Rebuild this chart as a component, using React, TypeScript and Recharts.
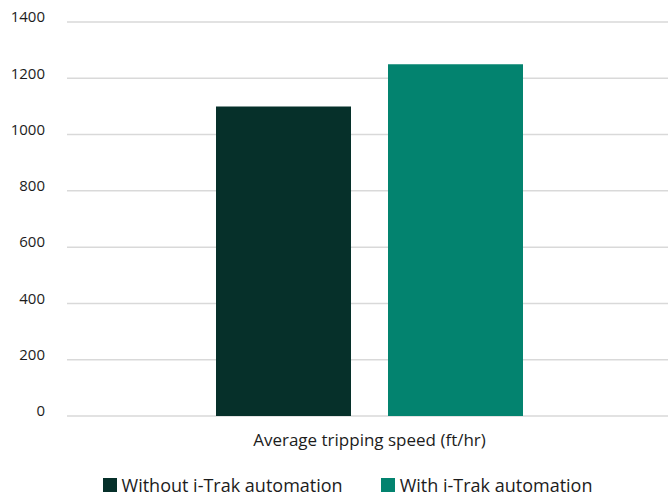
import React from "react";
import { Bar, BarChart, CartesianGrid, Legend, XAxis, YAxis } from "recharts";

const categories = ["Average tripping speed (ft/hr)"];
const withoutAutomation = [1100];
const withAutomation = [1250];
const yTicks = [0, 200, 400, 600, 800, 1000, 1200, 1400];

const SERIES = [
  { key: "without", name: "Without i-Trak automation", color: "#06302a" },
  { key: "with", name: "With i-Trak automation", color: "#03836f" },
];

const data = categories.map((c, i) => ({
  name: c,
  without: withoutAutomation[i],
  with: withAutomation[i],
}));

const FONT = "'Open Sans', sans-serif";
const TEXT = "#1c1c1c";

function LegendRow() {
  return (
    <div
      style={{
        display: "flex",
        justifyContent: "center",
        gap: 38,
        paddingLeft: 27,
        fontFamily: FONT,
        fontSize: 18,
        lineHeight: "20px",
        color: TEXT,
      }}
    >
      {SERIES.map((s) => (
        <span key={s.key} style={{ display: "inline-flex", alignItems: "center" }}>
          <span style={{ width: 14, height: 14, background: s.color, marginRight: 5, display: "inline-block" }} />
          {s.name}
        </span>
      ))}
    </div>
  );
}

export default function App() {
  return (
    <div style={{ position: "absolute", left: 0, top: 0, width: 668, height: 499, background: "#fff", overflow: "hidden" }}>
      <BarChart
        width={668}
        height={499}
        data={data}
        margin={{ top: 22, right: -4, bottom: 0, left: 0 }}
        barSize={135}
        barGap={37}
      >
        <CartesianGrid stroke="#d9d9d9" strokeWidth={1.5} vertical={false} />
        <XAxis
          dataKey="name"
          axisLine={false}
          tickLine={false}
          tickSize={0}
          tickMargin={18}
          height={83}
          tick={{ fontSize: 17, fill: TEXT, fontFamily: FONT }}
        />
        <YAxis
          domain={[0, 1400]}
          ticks={yTicks}
          axisLine={false}
          tickLine={false}
          tickSize={0}
          tickMargin={22}
          width={67}
          tick={{ fontSize: 15, fill: TEXT, fontFamily: FONT, dy: -5 }}
        />
        <Legend
          layout="horizontal"
          verticalAlign="middle"
          align="center"
          wrapperStyle={{ top: 475, left: 0, width: 668 }}
          content={() => <LegendRow />}
        />
        {SERIES.map((s) => (
          <Bar key={s.key} dataKey={s.key} name={s.name} fill={s.color} isAnimationActive={false} />
        ))}
      </BarChart>
    </div>
  );
}
